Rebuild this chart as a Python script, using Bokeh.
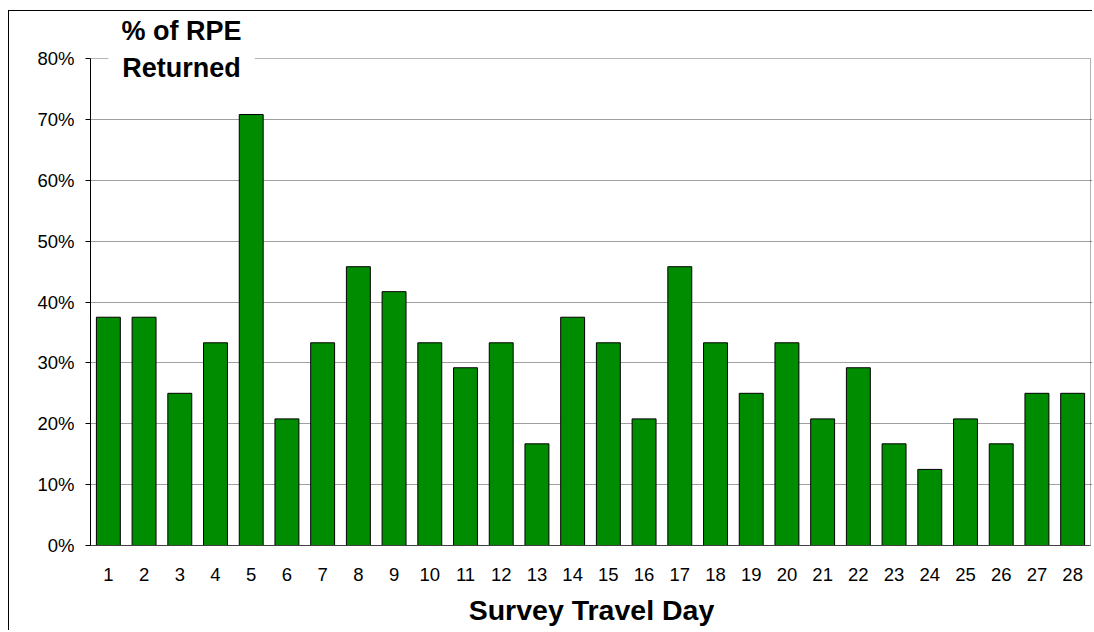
from bokeh.plotting import figure
from bokeh.models import FixedTicker, PrintfTickFormatter, Label, Range1d, BoxAnnotation
from bokeh.embed import file_html
from bokeh.resources import INLINE

days = list(range(1, 29))
pct_returned = [37.5, 37.5, 25.0, 33.3, 70.8, 20.8, 33.3, 45.8, 41.7, 33.3,
                29.2, 33.3, 16.7, 37.5, 33.3, 20.8, 45.8, 33.3, 25.0, 33.3,
                20.8, 29.2, 16.7, 12.5, 20.8, 16.7, 25.0, 25.0]
y_ticks = [0, 10, 20, 30, 40, 50, 60, 70, 80]
title_lines = ["% of RPE", "Returned"]
x_title = "Survey Travel Day"

FONT = "Liberation Sans"
Y_MAX = 80
X_LO, X_HI = 0.5, 28.5

p = figure(x_range=Range1d(X_LO, X_HI + 0.056),
           y_range=Range1d(0, 87.56),
           width=1084, height=620,
           output_backend="svg", toolbar_location=None,
           min_border_left=81, min_border_right=1,
           min_border_top=1, min_border_bottom=86)
p.styles = {"border-left": "1px solid black", "border-top": "1px solid black",
            "margin-left": "8px", "margin-top": "10px"}

p.outline_line_color = None
p.background_fill_color = "white"
p.border_fill_color = "white"

p.vbar(x=days, top=pct_returned, width=0.67, fill_color="#008C00",
       line_color="black", line_width=1)

# plot area box (0..80%)
p.add_layout(BoxAnnotation(left=X_LO, right=X_HI, bottom=0, top=Y_MAX,
                           fill_alpha=0, line_color="black", line_width=1,
                           level="underlay"))

# axes
p.xgrid.grid_line_color = None
p.ygrid.grid_line_color = "#A0A0A0"
p.ygrid.ticker = FixedTicker(ticks=y_ticks[1:-1])
p.ygrid.level = "underlay"

p.yaxis.ticker = FixedTicker(ticks=y_ticks)
p.yaxis.bounds = (0, Y_MAX)
p.yaxis.formatter = PrintfTickFormatter(format="%d%%")
p.yaxis.major_tick_out = 5
p.yaxis.major_tick_in = 0
p.yaxis.minor_tick_line_color = None
p.yaxis.axis_line_color = "black"
p.yaxis.major_tick_line_color = "black"
p.yaxis.major_label_standoff = 11
p.yaxis.major_label_text_font = FONT
p.yaxis.major_label_text_font_size = "18.5px"
p.yaxis.major_label_text_color = "black"

p.xaxis.ticker = FixedTicker(ticks=days)
p.xaxis.bounds = (X_LO, X_HI)
p.xaxis.major_tick_line_color = None
p.xaxis.minor_tick_line_color = None
p.xaxis.axis_line_color = "#404040"
p.xaxis.major_label_standoff = 16
p.xaxis.major_label_text_font = FONT
p.xaxis.major_label_text_font_size = "18.5px"
p.xaxis.major_label_text_color = "black"
p.xaxis.axis_label = x_title
p.xaxis.axis_label_text_font = FONT
p.xaxis.axis_label_text_font_size = "28.5px"
p.xaxis.axis_label_text_font_style = "bold"
p.xaxis.axis_label_text_color = "black"
p.xaxis.axis_label_standoff = 10

# title block (second line sits over the plot-area top edge)
title_x = 3.05
p.add_layout(Label(x=title_x, y=78.4, text=title_lines[1], text_align="center",
                   text_baseline="alphabetic", text_font=FONT,
                   text_font_size="27px", text_font_style="bold",
                   text_color="black", background_fill_color="white",
                   padding=14))
p.add_layout(Label(x=title_x, y=84.6, text=title_lines[0], text_align="center",
                   text_baseline="alphabetic", text_font=FONT,
                   text_font_size="27px", text_font_style="bold",
                   text_color="black"))

open("out.html", "w").write(file_html(p, INLINE))
